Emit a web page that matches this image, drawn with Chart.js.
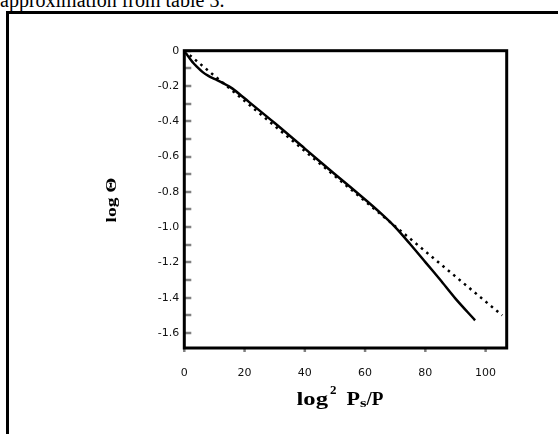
<!DOCTYPE html>
<html>
<head>
<meta charset="utf-8">
<script src="https://cdn.jsdelivr.net/npm/chart.js@4"></script>
<style>
  html, body { margin: 0; padding: 0; background: #fff; overflow: hidden; }
  body { width: 558px; height: 434px; position: relative; }
  #caption { position: absolute; left: 0; top: -10px; font: 20px 'Liberation Serif', serif; line-height: 20px; color: #000; white-space: nowrap; }
  #frame { position: absolute; left: 6px; top: 11px; width: 600px; height: 500px; border-left: 3px solid #000; border-top: 3px solid #000; }
  #chart { position: absolute; left: 0; top: 0; }
</style>
</head>
<body>
<div id="caption">approximation from table 3.</div>
<div id="frame"></div>
<canvas id="chart" width="558" height="434"></canvas>
<script>
// curva medida (linea continua)
const measuredX = [0, 1, 2, 3, 4, 6, 8, 10, 13, 16, 20, 30, 40, 50, 60, 65, 70, 75, 80, 85, 90, 96.5];
const measuredY = [0, -0.025, -0.048, -0.07, -0.088, -0.12, -0.143, -0.16, -0.185, -0.215, -0.27, -0.41, -0.555, -0.7, -0.843, -0.918, -1.0, -1.097, -1.198, -1.3, -1.405, -1.528];

// aproximacion lineal (punteada)
const approxX = [0, 105.5];
const approxY = [0, -1.5];

const xTicks = [0, 20, 40, 60, 80, 100];
const xTickLabels = ['0', '20', '40', '60', '80', '100'];
const yTicks = [0, -0.1, -0.2, -0.3, -0.4, -0.5, -0.6, -0.7, -0.8, -0.9, -1.0, -1.1, -1.2, -1.3, -1.4, -1.5, -1.6];
const yTickLabels = ['0', '', '-0.2', '', '-0.4', '', '-0.6', '', '-0.8', '', '-1.0', '', '-1.2', '', '-1.4', '', '-1.6'];

const toPoints = (xs, ys) => xs.map((x, i) => ({ x: x, y: ys[i] }));

// ticks grises hacia dentro, marco negro y titulos
const framePlugin = {
    id: 'framePlugin',
    afterDraw(chart) {
        const ctx = chart.ctx;
        const area = chart.chartArea;
        const xs = chart.scales.x;
        const ys = chart.scales.y;
        ctx.save();
        ctx.strokeStyle = '#808080';
        ctx.lineWidth = 2.5;
        yTicks.forEach(v => {
            const py = Math.round(ys.getPixelForValue(v));
            ctx.beginPath();
            ctx.moveTo(area.left, py);
            ctx.lineTo(area.left + 7, py);
            ctx.stroke();
        });
        xTicks.forEach(v => {
            const px = xs.getPixelForValue(v);
            ctx.beginPath();
            ctx.moveTo(px, area.bottom);
            ctx.lineTo(px, area.bottom + 4);
            ctx.stroke();
        });
        ctx.strokeStyle = '#000';
        ctx.lineWidth = 3;
        ctx.strokeRect(area.left, area.top, area.right - area.left, area.bottom - area.top);

        ctx.fillStyle = '#000';
        ctx.textBaseline = 'alphabetic';
        // titulo eje x: log^2 Ps/P
        const piece = (txt, font, x, y, w) => {
            ctx.font = font;
            const m = ctx.measureText(txt).width;
            ctx.save();
            ctx.translate(x, y);
            ctx.scale(w / m, 1);
            ctx.fillText(txt, 0, 0);
            ctx.restore();
        };
        piece('log', 'bold 19px "Liberation Serif"', 296.5, 405, 31.5);
        piece('2', 'bold 12px "Liberation Serif"', 330, 393.5, 6.5);
        piece('P', 'bold 19px "Liberation Serif"', 346.5, 405, 13.5);
        piece('s', 'bold 13px "Liberation Serif"', 360, 407, 6.5);
        piece('/P', 'bold 19px "Liberation Serif"', 366.5, 405, 17);

        // titulo eje y: log Θ
        ctx.save();
        ctx.translate(116, 200);
        ctx.rotate(-Math.PI / 2);
        ctx.font = 'bold 14px "Liberation Serif"';
        const t = 'log \u0398';
        const tw = ctx.measureText(t).width;
        ctx.scale(45 / tw, 1);
        ctx.textAlign = 'center';
        ctx.fillText(t, 0, 0);
        ctx.restore();
        ctx.restore();
    }
};

new Chart(document.getElementById('chart').getContext('2d'), {
    type: 'line',
    data: {
        datasets: [
            {
                label: 'medido',
                data: toPoints(measuredX, measuredY),
                borderColor: '#000',
                borderWidth: 2.5,
                pointRadius: 0,
                tension: 0.3,
                fill: false
            },
            {
                label: 'aproximacion',
                data: toPoints(approxX, approxY),
                borderColor: '#000',
                borderWidth: 2.5,
                borderDash: [2.5, 4.5],
                borderCapStyle: 'butt',
                pointRadius: 0,
                fill: false
            }
        ]
    },
    options: {
        responsive: false,
        animation: false,
        layout: { padding: { left: 0, top: 50.7, right: 51.3, bottom: 0 } },
        plugins: {
            legend: { display: false },
            tooltip: { enabled: false }
        },
        scales: {
            x: {
                type: 'linear',
                min: 0,
                max: 107,
                afterBuildTicks: s => { s.ticks = xTicks.map(v => ({ value: v })); },
                afterFit: s => { s.height = 86; },
                grid: { display: false, drawTicks: false },
                border: { display: false },
                ticks: {
                    autoSkip: false,
                    maxRotation: 0,
                    padding: 19,
                    color: '#111',
                    font: { family: 'DejaVu Sans', size: 11 },
                    callback: (v, i) => xTickLabels[i]
                }
            },
            y: {
                type: 'linear',
                min: -1.685,
                max: 0,
                afterBuildTicks: s => { s.ticks = yTicks.map(v => ({ value: v })); },
                afterFit: s => { s.width = 184.3; },
                grid: { display: false, drawTicks: false },
                border: { display: false },
                ticks: {
                    autoSkip: false,
                    padding: 5,
                    color: '#111',
                    font: { family: 'DejaVu Sans', size: 11 },
                    callback: (v, i) => yTickLabels[i]
                }
            }
        }
    },
    plugins: [framePlugin]
});
</script>
</body>
</html>
